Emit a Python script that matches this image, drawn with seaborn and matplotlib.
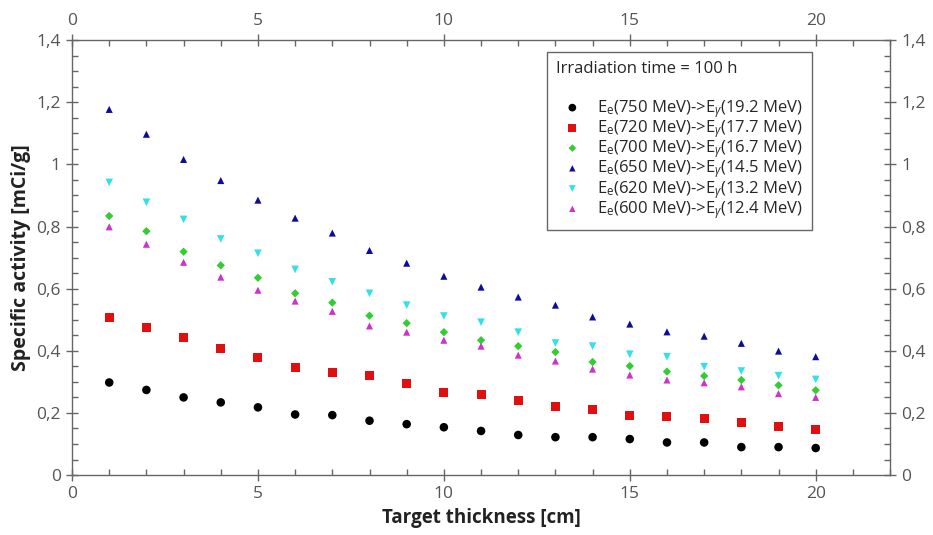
import pandas as pd
import matplotlib
matplotlib.use("Agg")
import matplotlib.pyplot as plt
import seaborn as sns
from matplotlib.ticker import MultipleLocator, FuncFormatter

# Data
thickness = list(range(1, 21))
e750 = [0.298, 0.274, 0.250, 0.234, 0.218, 0.195, 0.193, 0.175, 0.164, 0.154,
        0.142, 0.129, 0.122, 0.122, 0.116, 0.105, 0.105, 0.090, 0.090, 0.087]
e720 = [0.506, 0.476, 0.442, 0.408, 0.379, 0.345, 0.331, 0.320, 0.296, 0.267,
        0.258, 0.241, 0.222, 0.212, 0.193, 0.188, 0.182, 0.170, 0.155, 0.148]
e700 = [0.834, 0.785, 0.719, 0.675, 0.635, 0.585, 0.555, 0.513, 0.489, 0.460,
        0.434, 0.415, 0.396, 0.364, 0.351, 0.333, 0.319, 0.306, 0.289, 0.273]
e650 = [1.177, 1.097, 1.016, 0.948, 0.885, 0.827, 0.779, 0.723, 0.682, 0.640,
        0.605, 0.573, 0.547, 0.509, 0.486, 0.461, 0.447, 0.424, 0.399, 0.381]
e620 = [0.942, 0.878, 0.823, 0.760, 0.714, 0.662, 0.622, 0.585, 0.547, 0.512,
        0.492, 0.460, 0.425, 0.415, 0.389, 0.381, 0.349, 0.335, 0.320, 0.308]
e600 = [0.799, 0.743, 0.685, 0.637, 0.595, 0.560, 0.527, 0.480, 0.460, 0.434,
        0.415, 0.386, 0.367, 0.341, 0.322, 0.306, 0.297, 0.284, 0.262, 0.250]

labels = [r"E$_\mathrm{e}$(750 MeV)->E$_\gamma$(19.2 MeV)",
          r"E$_\mathrm{e}$(720 MeV)->E$_\gamma$(17.7 MeV)",
          r"E$_\mathrm{e}$(700 MeV)->E$_\gamma$(16.7 MeV)",
          r"E$_\mathrm{e}$(650 MeV)->E$_\gamma$(14.5 MeV)",
          r"E$_\mathrm{e}$(620 MeV)->E$_\gamma$(13.2 MeV)",
          r"E$_\mathrm{e}$(600 MeV)->E$_\gamma$(12.4 MeV)"]
series = [e750, e720, e700, e650, e620, e600]

colors = ["#000000", "#e01010", "#33cc33", "#0c0c9c", "#33e0e8", "#cc33cc"]
markers = ["o", "s", "D", "^", "v", "^"]
sizes = [38, 42, 18, 26, 30, 26]

rows = []
for lab, vals in zip(labels, series):
    for t, v in zip(thickness, vals):
        rows.append({"thickness": t, "activity": v, "beam": lab})
df = pd.DataFrame(rows)

sns.set_style("ticks")
plt.rcParams["font.family"] = ["Open Sans", "DejaVu Sans"]
plt.rcParams["mathtext.fontset"] = "custom"
plt.rcParams["mathtext.rm"] = "Open Sans"
plt.rcParams["mathtext.it"] = "Open Sans:italic"

fig = plt.figure(figsize=(9.33, 5.35), dpi=100)
ax = fig.add_axes([0.0772, 0.112, 0.8768, 0.813])

for lab, col, mk, sz in zip(labels, colors, markers, sizes):
    sub = df[df["beam"] == lab]
    sns.scatterplot(data=sub, x="thickness", y="activity", color=col, marker=mk,
                    s=sz, edgecolor="none", label=lab, ax=ax)

ax.set_xlim(0, 22)
ax.set_ylim(0, 1.4)
ax.set_xticks([0, 5, 10, 15, 20])
ax.xaxis.set_minor_locator(MultipleLocator(1))
ax.yaxis.set_major_locator(MultipleLocator(0.2))
ax.yaxis.set_minor_locator(MultipleLocator(0.05))
ax.yaxis.set_major_formatter(FuncFormatter(lambda v, p: f"{v:g}".replace(".", ",")))

grey = "#666666"
for sp in ax.spines.values():
    sp.set_visible(True)
    sp.set_color(grey)
    sp.set_linewidth(1)
ax.tick_params(which="both", top=True, right=True, labeltop=True, labelright=True,
               color=grey, labelcolor="#555555", labelsize=12.5)
ax.tick_params(which="major", direction="inout", length=9, width=1)
ax.tick_params(which="minor", direction="in", length=4, width=1)

ax.set_xlabel("Target thickness [cm]", fontsize=13.5, fontweight="bold", color="#222222")
ax.set_ylabel("Specific activity [mCi/g]", fontsize=14, fontweight="bold", color="#222222")

leg = ax.legend(title="Irradiation time = 100 h\n", loc="upper right",
                bbox_to_anchor=(0.905, 0.972), borderaxespad=0, frameon=True,
                fancybox=False, fontsize=12, title_fontsize=12, alignment="left",
                handletextpad=0.5, borderpad=0.55, labelspacing=-0.1,
                markerscale=0.9)
leg.get_title().set_linespacing(1.5)
leg.get_frame().set_edgecolor(grey)
leg.get_frame().set_linewidth(1)
leg.get_frame().set_alpha(1)

fig.savefig("out.png", dpi=100)
